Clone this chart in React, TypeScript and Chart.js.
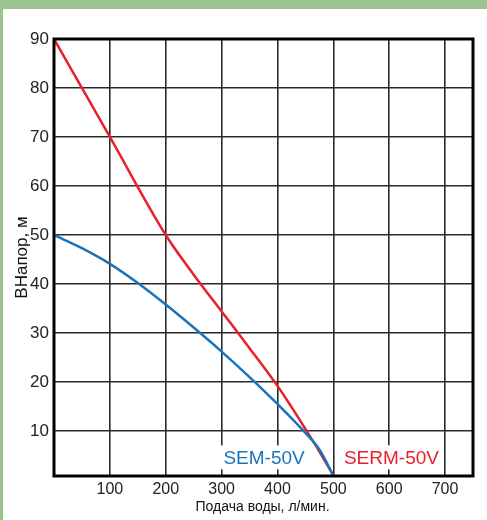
import React, { useEffect, useRef } from "react";
import { Chart, registerables } from "chart.js";

Chart.register(...registerables);

const xTicks = [100, 200, 300, 400, 500, 600, 700];
const yTicks = [10, 20, 30, 40, 50, 60, 70, 80, 90];

const semFlow = [0, 50, 100, 150, 200, 250, 300, 350, 400, 450, 475, 500];
const semHead = [50, 47.3, 44.1, 40.2, 35.8, 31.1, 26.2, 21.0, 15.5, 9.6, 6.2, 0.9];

const sermFlow = [0, 100, 200, 250, 300, 350, 400, 425, 450, 475, 500];
const sermHead = [90, 70, 50, 41.9, 34.4, 26.9, 19.2, 14.9, 10.4, 5.8, 0.9];

const seriesNames = ["SEM-50V", "SERM-50V"];
const xTitle = "Подача воды, л/мин.";
const yTitle = "ВНапор, м";

const BLUE = "#1874bd";
const RED = "#e8202a";
const FONT = "'Liberation Sans', Arial, Helvetica, sans-serif";

const decorPlugin = {
  id: "decor",
  beforeDraw(chart: any) {
    const { ctx, width, height } = chart;
    ctx.save();
    ctx.fillStyle = "#ffffff";
    ctx.fillRect(0, 0, width, height);
    ctx.fillStyle = "#9ac390";
    ctx.fillRect(0, 0, width, 9);
    ctx.fillRect(0, 0, 3, height);
    ctx.restore();
  },
  afterDraw(chart: any) {
    const { ctx, chartArea } = chart;
    const xs = chart.scales.x;
    const ys = chart.scales.y;
    ctx.save();
    ctx.strokeStyle = "#000";
    ctx.lineWidth = 3;
    ctx.strokeRect(chartArea.left, chartArea.top, chartArea.right - chartArea.left, chartArea.bottom - chartArea.top);

    ctx.font = `19px ${FONT}`;
    ctx.textBaseline = "middle";
    ctx.textAlign = "center";
    const labels = [
      { text: seriesNames[0], x: 376, color: BLUE },
      { text: seriesNames[1], x: 604, color: RED },
    ];
    const ly = ys.getPixelForValue(4.6);
    labels.forEach((l) => {
      const px = xs.getPixelForValue(l.x);
      const w = ctx.measureText(l.text).width;
      ctx.fillStyle = "#fff";
      ctx.fillRect(px - w / 2 - 4, ly - 12, w + 8, 24);
      ctx.fillStyle = l.color;
      ctx.fillText(l.text, px, ly + 1);
    });

    ctx.fillStyle = "#111";
    ctx.font = `14px ${FONT}`;
    ctx.textAlign = "center";
    ctx.textBaseline = "middle";
    ctx.fillText(xTitle, (chartArea.left + chartArea.right) / 2 - 1, 507);

    ctx.font = `17px ${FONT}`;
    ctx.translate(22, (chartArea.top + chartArea.bottom) / 2);
    ctx.rotate(-Math.PI / 2);
    ctx.fillText(yTitle, 0, 0);
    ctx.restore();
  },
};

export default function App() {
  const ref = useRef<HTMLCanvasElement | null>(null);

  useEffect(() => {
    if (!ref.current) return;
    const chart = new Chart(ref.current, {
      type: "line",
      data: {
        datasets: [
          {
            label: seriesNames[0],
            data: semFlow.map((x, i) => ({ x, y: semHead[i] })),
            borderColor: BLUE,
            borderWidth: 2.5,
            pointRadius: 0,
            cubicInterpolationMode: "monotone",
            fill: false,
          },
          {
            label: seriesNames[1],
            data: sermFlow.map((x, i) => ({ x, y: sermHead[i] })),
            borderColor: RED,
            borderWidth: 2.5,
            pointRadius: 0,
            cubicInterpolationMode: "monotone",
            fill: false,
          },
        ],
      },
      options: {
        animation: false,
        responsive: false,
        devicePixelRatio: 1,
        layout: { padding: { left: 0, top: 39, right: 14, bottom: 0 } },
        plugins: { legend: { display: false }, tooltip: { enabled: false } },
        scales: {
          x: {
            type: "linear",
            min: 0,
            max: 750,
            afterBuildTicks: (s: any) => {
              s.ticks = xTicks.map((v) => ({ value: v }));
            },
            afterFit: (s: any) => {
              s.height = 44;
            },
            grid: { color: "#2a2a2a", lineWidth: 1.6, drawTicks: false },
            border: { display: false },
            ticks: {
              padding: 4,
              color: "#222",
              font: { family: FONT, size: 16 },
              maxRotation: 0,
              autoSkip: false,
            },
          },
          y: {
            type: "linear",
            min: 0.8,
            max: 90,
            afterBuildTicks: (s: any) => {
              s.ticks = yTicks.map((v) => ({ value: v }));
            },
            afterFit: (s: any) => {
              s.width = 54;
            },
            grid: { color: "#2a2a2a", lineWidth: 1.6, drawTicks: false },
            border: { display: false },
            ticks: {
              padding: 5,
              color: "#222",
              font: { family: FONT, size: 17 },
              autoSkip: false,
            },
          },
        },
      },
      plugins: [decorPlugin],
    } as any);
    return () => chart.destroy();
  }, []);

  return (
    <div style={{ position: "absolute", left: 0, top: 0, width: 487, height: 520 }}>
      <canvas ref={ref} width={487} height={520} style={{ display: "block", width: 487, height: 520 }} />
    </div>
  );
}
